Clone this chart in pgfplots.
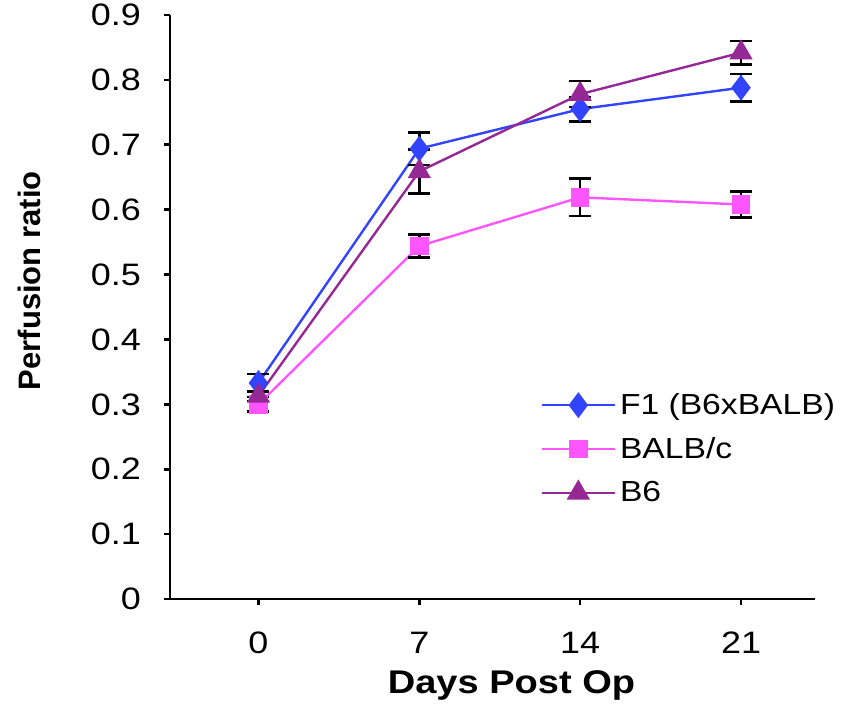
\documentclass[border=0pt]{standalone}
\usepackage{pgfplots}
\pgfplotsset{compat=1.18}
\usepackage{fontspec}
\setmainfont{Liberation Sans}[FakeStretch=1.16]
\newfontfamily\ylabfont{Liberation Sans}
\definecolor{cF}{RGB}{51,68,255}
\definecolor{cB}{RGB}{255,85,255}
\definecolor{cS}{RGB}{150,40,150}
\begin{document}
\begin{tikzpicture}
\path[use as bounding box] (-85pt,-56.5pt) rectangle (336.5pt,299.5pt);
\begin{axis}[
  scale only axis,
  width=322.5pt, height=292pt,
  at={(0pt,0pt)}, anchor=south west,
  xmin=-0.55, xmax=3.46,
  ymin=0, ymax=0.9,
  axis x line=bottom, axis y line=left,
  axis line style={-, line width=1.3pt, black},
  xtick={0,1,2,3}, xticklabels={0,7,14,21},
  ytick={0,0.1,...,0.9},
  yticklabel style={/pgf/number format/fixed, /pgf/number format/precision=1},
  /pgf/number format/assume math mode=true,
  tick align=outside,
  major tick length=3pt,
  tick style={line width=1.3pt, black},
  ticklabel style={font=\fontsize{15.5}{18}\selectfont},
  xticklabel style={yshift=-10pt},
  yticklabel style={xshift=-8pt},
  xlabel={\textbf{Days Post Op}},
  ylabel={\ylabfont\bfseries Perfusion ratio},
  label style={font=\fontsize{16.4}{19}\selectfont},
  xlabel style={yshift=-1.5pt, xshift=9.5pt},
  ylabel style={at={(axis description cs:-0.2186,0.545)}, anchor=center, font=\fontsize{15.5}{18}\selectfont},
  legend style={draw=none, fill=none, at={(0.574,0.36)}, anchor=north west,
    font=\fontsize{14.5}{17}\selectfont, row sep=6pt, inner sep=0pt},
  legend cell align=left,
  legend image code/.code={
    \draw[#1] (0pt,0pt) -- (36.5pt,0pt);
    \draw[#1, only marks] plot coordinates {(18.25pt,0pt)};
  },
  error bars/y dir=both, error bars/y explicit,
  error bars/error bar style={black, line width=1.2pt},
  error bars/error mark options={rotate=90, black, mark size=5.5pt, line width=1.2pt},
]
\addplot[cF, line width=1.2pt, mark=diamond*, mark size=5.5pt, mark options={fill=cF, draw=cF}]
  coordinates {(0,0.333) +- (0,0.014) (1,0.694) +- (0,0.025) (2,0.755) +- (0,0.019) (3,0.788) +- (0,0.021)};
\addlegendentry{F1 (B6xBALB)}
\addplot[cB, line width=1.2pt, mark=square*, mark size=4pt, mark options={fill=cB, draw=cB}]
  coordinates {(0,0.300) +- (0,0.011) (1,0.544) +- (0,0.018) (2,0.619) +- (0,0.029) (3,0.608) +- (0,0.020)};
\addlegendentry{BALB/c}
\addplot[cS, line width=1.2pt, mark=triangle*, mark size=5.5pt, mark options={fill=cS, draw=cS}]
  coordinates {(0,0.313) +- (0,0.008) (1,0.659) +- (0,0.034) (2,0.778) +- (0,0.020) (3,0.842) +- (0,0.018)};
\addlegendentry{B6}
\end{axis}
\end{tikzpicture}
\end{document}
